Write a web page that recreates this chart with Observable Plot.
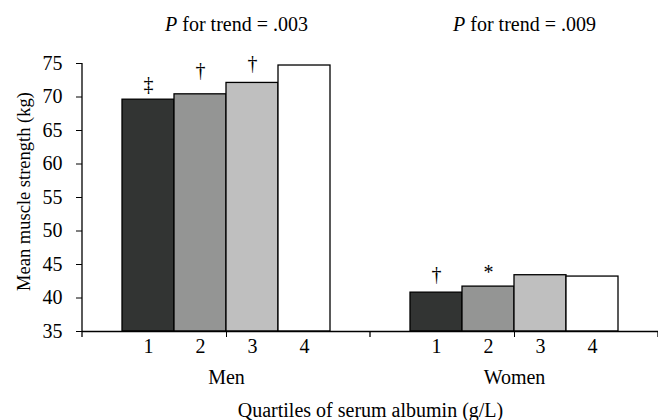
<!DOCTYPE html>
<html>
<head>
<meta charset="utf-8">
<script src="https://cdn.jsdelivr.net/npm/d3@7"></script>
<script src="https://cdn.jsdelivr.net/npm/@observablehq/plot@0.6"></script>
<style>
  html, body { margin: 0; padding: 0; background: #fff; }
  svg { display: block; }
  svg, svg text { font-family: 'Liberation Serif', 'Times New Roman', serif !important; }
</style>
</head>
<body>
<div id="chart"></div>
<script>
// ---- data ----
const sexes = ["Men", "Women"];
const quartiles = ["1", "2", "3", "4"];
const menValues = [69.6, 70.4, 72.1, 74.7];
const womenValues = [40.8, 41.7, 43.4, 43.2];
const quartileColors = ["#323433", "#949594", "#bfbfbf", "#ffffff"];
const trendLabels = ["P for trend = .003", "P for trend = .009"];
const menSymbols = ["‡", "†", "†", ""];
const womenSymbols = ["†", "*", "", ""];
const menSymbolY = [71.8, 73.9, 75.0, null];
const womenSymbolY = [43.5, 43.8, null, null];
const yTicks = [35, 40, 45, 50, 55, 60, 65, 70, 75];
const yLabel = "Mean muscle strength (kg)";
const xLabel = "Quartiles of serum albumin (g/L)";

// ---- tables built from the arrays ----
const bars = [
  ...quartiles.map((q, i) => ({sex: sexes[0], q, value: menValues[i]})),
  ...quartiles.map((q, i) => ({sex: sexes[1], q, value: womenValues[i]}))
];
const symbols = [
  ...quartiles.map((q, i) => ({sex: sexes[0], q, sym: menSymbols[i], pos: menSymbolY[i]})),
  ...quartiles.map((q, i) => ({sex: sexes[1], q, sym: womenSymbols[i], pos: womenSymbolY[i]}))
].filter(d => d.sym);
const trends = sexes.map((s, i) => ({sex: s, label: trendLabels[i]}));

const serif = "'Liberation Serif', 'Times New Roman', serif";

const plot = Plot.plot({
  width: 658,
  height: 420,
  marginLeft: 82,
  marginRight: 0,
  marginTop: 63,
  marginBottom: 89,
  style: {fontFamily: serif, fontSize: "20px", background: "#fff", color: "#000"},
  fx: {domain: sexes, padding: 0, axis: null},
  x: {domain: quartiles, paddingInner: 0, paddingOuter: 0.743, axis: null},
  y: {domain: [35, 75], axis: null},
  color: {domain: quartiles, range: quartileColors},
  marks: [
    Plot.barY(bars, {fx: "sex", x: "q", y1: 35, y2: "value", fill: "q", stroke: "#000", strokeWidth: 1.3}),
    Plot.ruleY([35], {stroke: "#000", strokeWidth: 1.3}),
    Plot.text(symbols, {fx: "sex", x: "q", y: "pos", text: "sym", fontSize: 20, fontFamily: serif, lineAnchor: "middle"}),
    Plot.text(trends, {fx: "sex", text: "label", frameAnchor: "top", lineAnchor: "bottom", dy: -33, dx: 10, fontSize: 20, fontFamily: serif}),
    Plot.text([{sex: sexes[0], label: yLabel}], {fx: "sex", text: "label", frameAnchor: "left", textAnchor: "middle", rotate: -90, dx: -58, dy: -6, fontSize: 18.5, fontFamily: serif}),
    Plot.axisY({ticks: yTicks, tickSize: 6, tickPadding: 14, fontSize: 20, fontFamily: serif, label: null, stroke: "#000"}),
    Plot.axisX({tickSize: 0, tickPadding: 7, fontSize: 20, fontFamily: serif, label: null}),
    Plot.axisFx({anchor: "bottom", tickSize: 6, tickPadding: 32, fontSize: 20, fontFamily: serif, label: xLabel, labelAnchor: "center", labelOffset: 85})
  ]
});

document.getElementById("chart").appendChild(plot);

// axis line and facet-edge ticks, positioned through Plot's own scales
const svg = d3.select(plot);
const fx = plot.scale("fx");
const y = plot.scale("y");
const edges = [...sexes.map(s => fx.apply(s)), fx.apply(sexes[sexes.length - 1]) + fx.bandwidth];
const g = svg.append("g").attr("stroke", "#000").attr("stroke-width", 1.3);
g.append("line")
  .attr("x1", fx.apply(sexes[0])).attr("x2", fx.apply(sexes[0]))
  .attr("y1", y.apply(75)).attr("y2", y.apply(35));
g.selectAll("line.edge").data(edges).join("line").attr("class", "edge")
  .attr("x1", d => d).attr("x2", d => d)
  .attr("y1", y.apply(35)).attr("y2", y.apply(35) + 6);

// italic P in the trend labels
svg.selectAll("text").each(function() {
  const t = this.textContent;
  if (t.startsWith("P for trend")) {
    const sel = d3.select(this);
    sel.text(null);
    sel.append("tspan").attr("font-style", "italic").text("P");
    sel.append("tspan").text(t.slice(1));
  }
});
</script>
</body>
</html>
